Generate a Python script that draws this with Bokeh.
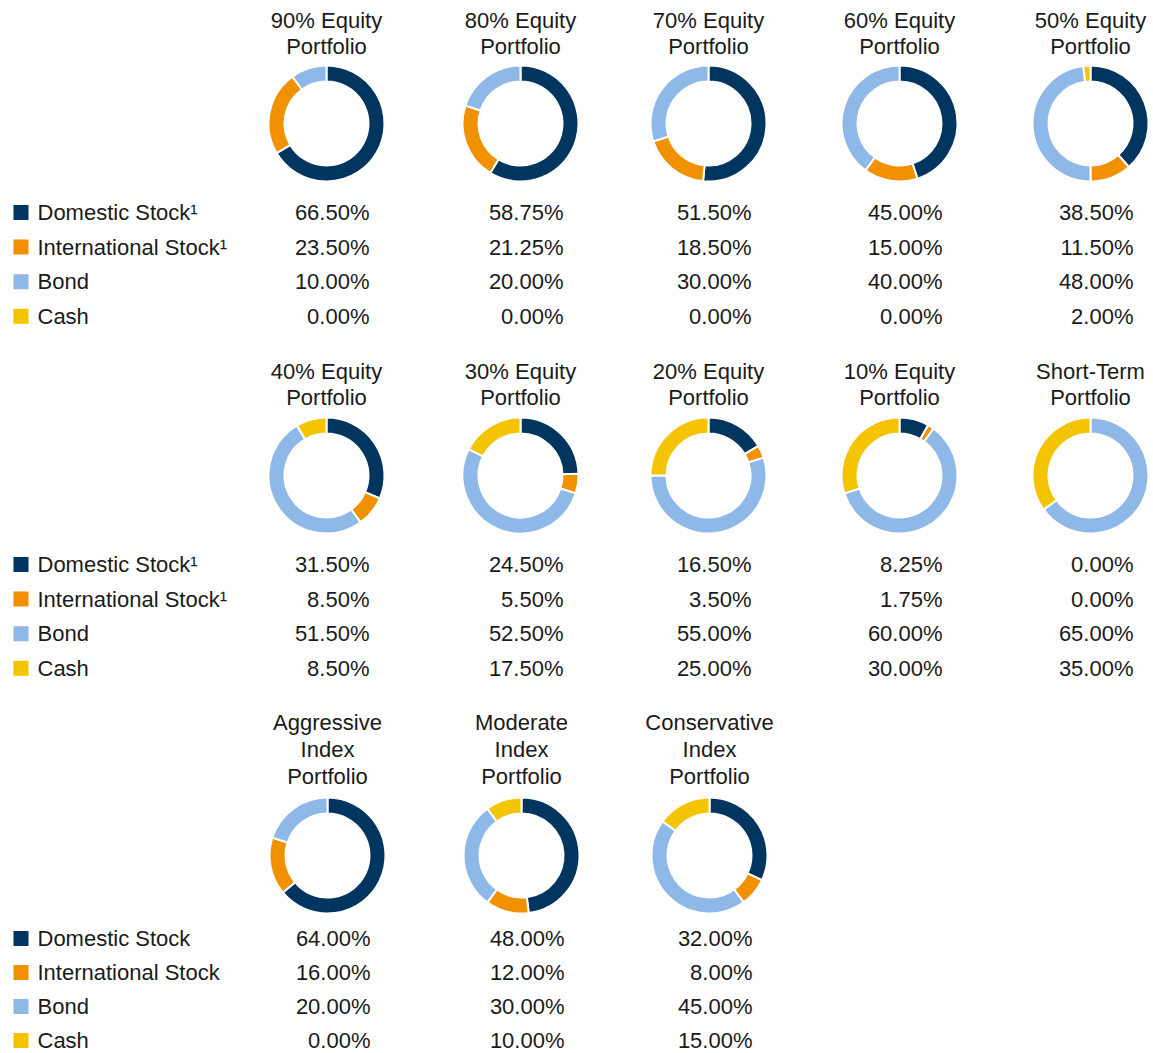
import math
from bokeh.plotting import figure
from bokeh.models import Range1d
from bokeh.core.properties import value
from bokeh.embed import file_html
from bokeh.resources import INLINE

# ---------------- data ----------------
titles = [
    "90% Equity\nPortfolio", "80% Equity\nPortfolio", "70% Equity\nPortfolio",
    "60% Equity\nPortfolio", "50% Equity\nPortfolio",
    "40% Equity\nPortfolio", "30% Equity\nPortfolio", "20% Equity\nPortfolio",
    "10% Equity\nPortfolio", "Short-Term\nPortfolio",
    "Aggressive\nIndex\nPortfolio", "Moderate\nIndex\nPortfolio", "Conservative\nIndex\nPortfolio",
]
domestic = [66.50, 58.75, 51.50, 45.00, 38.50, 31.50, 24.50, 16.50, 8.25, 0.00, 64.00, 48.00, 32.00]
international = [23.50, 21.25, 18.50, 15.00, 11.50, 8.50, 5.50, 3.50, 1.75, 0.00, 16.00, 12.00, 8.00]
bond = [10.00, 20.00, 30.00, 40.00, 48.00, 51.50, 52.50, 55.00, 60.00, 65.00, 20.00, 30.00, 45.00]
cash = [0.00, 0.00, 0.00, 0.00, 2.00, 8.50, 17.50, 25.00, 30.00, 35.00, 0.00, 10.00, 15.00]

categories = ["Domestic Stock", "International Stock", "Bond", "Cash"]
legend_rows = [
    ["Domestic Stock\u00b9", "International Stock\u00b9", "Bond", "Cash"],
    ["Domestic Stock\u00b9", "International Stock\u00b9", "Bond", "Cash"],
    ["Domestic Stock", "International Stock", "Bond", "Cash"],
]
colors = ["#00355F", "#F29100", "#8EB8E8", "#F5C400"]

# ---------------- layout ----------------
W, H = 1153, 1053
col_x = [326, 520, 708, 899, 1090]
row_center = [123, 475, 855]
row_values = [212, 564, 938]
row_gap = [34.6, 34.6, 34.0]
title_gap = [26.5, 26.0, 27.0]
title_offset = [77, 78, 79]
r_out, r_in = 58, 42
FONT = "Liberation Sans"
FS = "22px"
TXT = "#1a1a1a"

def Y(py):
    return H - py

p = figure(width=W, height=H, output_backend="svg", toolbar_location=None,
           x_range=Range1d(0, W), y_range=Range1d(0, H), min_border=0)
p.axis.visible = False
p.grid.visible = False
p.outline_line_color = None
p.background_fill_color = "white"
p.border_fill_color = "white"

series = [domestic, international, bond, cash]

wx, wy, ws, we, wc = [], [], [], [], []
tx, ty, tt = [], [], []
vx, vy, vt = [], [], []

for i, title in enumerate(titles):
    if i < 10:
        row, col = divmod(i, 5)
    else:
        row, col = 2, i - 10
    cx = col_x[col]
    if row == 2:
        cx += 1
    cy = row_center[row]
    # donut
    cum = 0.0
    for k in range(4):
        v = series[k][i]
        if v > 0:
            a0 = math.pi / 2 - cum / 100 * 2 * math.pi
            a1 = math.pi / 2 - (cum + v) / 100 * 2 * math.pi
            wx.append(cx); wy.append(Y(cy)); ws.append(a0); we.append(a1); wc.append(colors[k])
        cum += v
    # title
    lines = title.split("\n")
    n = len(lines)
    last = cy - title_offset[row]
    for j, ln in enumerate(lines):
        tx.append(cx); ty.append(Y(last - (n - 1 - j) * title_gap[row])); tt.append(ln)
    # values
    for k in range(4):
        vx.append(cx + 43)
        vy.append(Y(row_values[row] + k * row_gap[row]))
        vt.append(f"{series[k][i]:.2f}%")

p.annular_wedge(x=wx, y=wy, inner_radius=r_in, outer_radius=r_out,
                start_angle=ws, end_angle=we, direction="clock",
                fill_color=wc, line_color="white", line_width=2)

p.text(x=tx, y=ty, text=tt, text_align="center", text_baseline="middle",
       text_font=value(FONT), text_font_size=FS, text_color=TXT)
p.text(x=vx, y=vy, text=vt, text_align="right", text_baseline="middle",
       text_font=value(FONT), text_font_size=FS, text_color=TXT)

# legends
lx, ly, lc, lt, sx, sy = [], [], [], [], [], []
for row in range(3):
    for k in range(4):
        yy = Y(row_values[row] + k * row_gap[row])
        sx.append(20.5); sy.append(yy); lc.append(colors[k])
        lx.append(37); ly.append(yy); lt.append(legend_rows[row][k])
p.rect(x=sx, y=sy, width=15, height=15, fill_color=lc, line_color=None)
p.text(x=lx, y=ly, text=lt, text_align="left", text_baseline="middle",
       text_font=value(FONT), text_font_size=FS, text_color=TXT)

open("out.html", "w").write(file_html(p, INLINE))
